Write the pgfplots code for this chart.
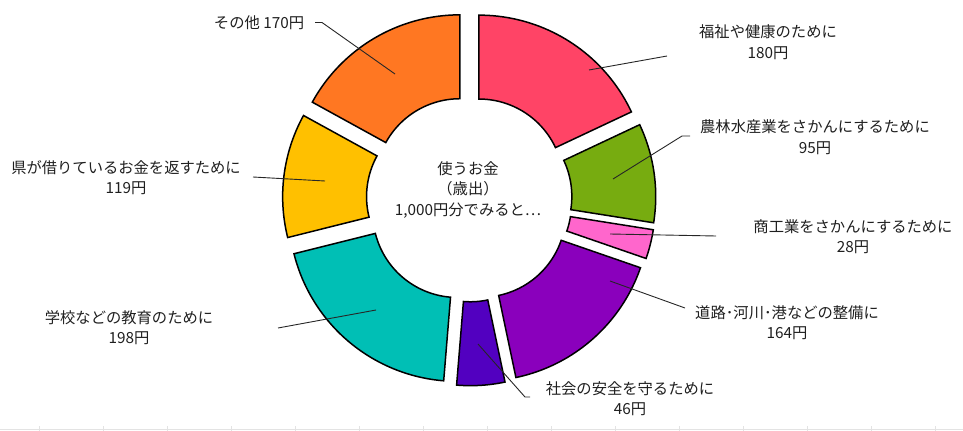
\documentclass[border=0pt]{standalone}
\usepackage{fontspec}
\setmainfont{Noto Sans CJK JP}
\usepackage{pgfplots}
\pgfplotsset{compat=1.18}
\definecolor{c1}{HTML}{FF4466}
\definecolor{c2}{HTML}{77AC10}
\definecolor{c3}{HTML}{FF66CC}
\definecolor{c4}{HTML}{8A00BC}
\definecolor{c5}{HTML}{5200C0}
\definecolor{c6}{HTML}{00BFB5}
\definecolor{c7}{HTML}{FFC000}
\definecolor{c8}{HTML}{FF7722}
% #1 = cumulative start (yen), #2 = value (yen), #3 = colour
\newcommand{\seg}[3]{%
  \addplot[fill=#3, draw=black, line width=1.5bp, line join=miter, variable=\t,
    samples at={0,0.025,...,0.975,1,1.1,1.125,...,2.075,2.1}]
  ({469.2 + 18.2*sin(0.18*(2*#1+#2)) + segrad(\t)*sin(0.36*(#1 + #2*segfr(\t)))},
   {199 - 18.2*cos(0.18*(2*#1+#2)) - segrad(\t)*cos(0.36*(#1 + #2*segfr(\t)))}) -- cycle;
}
\newcommand{\lab}{\fontsize{15.3bp}{20.5bp}\selectfont}
\tikzset{lbl/.style={align=center, font=\lab, text=black!88, inner sep=0pt}}
\begin{document}
\begin{tikzpicture}
\begin{axis}[
  width=963bp, height=431bp, scale only axis,
  xmin=0, xmax=963, ymin=0, ymax=431, y dir=reverse,
  hide axis, clip=false, no markers,
  declare function={segfr(\a)=ifthenelse(\a<1.05,\a,2.1-\a);
                    segrad(\a)=ifthenelse(\a<1.05,168.5,84.6);},
]
% faint sheet line at the bottom
\addplot[gray!22, line width=0.8bp] coordinates {(0,429.5) (963,429.5)};
\addplot[gray!22, line width=0.8bp, unbounded coords=jump] coordinates {
 (39.5,426)(39.5,431) (nan,nan) (103.5,426)(103.5,431) (nan,nan)
 (167.5,426)(167.5,431) (nan,nan) (231.5,426)(231.5,431) (nan,nan)
 (295.5,426)(295.5,431) (nan,nan) (359.5,426)(359.5,431) (nan,nan)
 (423.5,426)(423.5,431) (nan,nan) (487.5,426)(487.5,431) (nan,nan)
 (551.5,426)(551.5,431) (nan,nan) (615.5,426)(615.5,431) (nan,nan)
 (679.5,426)(679.5,431) (nan,nan) (743.5,426)(743.5,431) (nan,nan)
 (807.5,426)(807.5,431) (nan,nan) (871.5,426)(871.5,431) (nan,nan)
 (935.5,426)(935.5,431)};
% donut sectors: start, value
\seg{0}{180}{c1}
\seg{180}{95}{c2}
\seg{275}{28}{c3}
\seg{303}{164}{c4}
\seg{467}{46}{c5}
\seg{513}{198}{c6}
\seg{711}{119}{c7}
\seg{830}{170}{c8}
% leader lines
\addplot[black!85, line width=0.9bp] coordinates {(667,56) (589,70)};
\addplot[black!85, line width=0.9bp] coordinates {(690,136) (682,136) (613,179)};
\addplot[black!85, line width=0.9bp] coordinates {(716,236) (610,234)};
\addplot[black!85, line width=0.9bp] coordinates {(685,308) (610,281)};
\addplot[black!85, line width=0.9bp] coordinates {(530,397) (525,397) (478,344)};
\addplot[black!85, line width=0.9bp] coordinates {(278,328) (376,310)};
\addplot[black!85, line width=0.9bp] coordinates {(253,177) (325,181)};
\addplot[black!85, line width=0.9bp] coordinates {(315,22.5) (322,22.5) (395,74)};
% labels
\node[lbl] at (axis cs:768,42) {福祉や健康のために\\180円};
\node[lbl] at (axis cs:815,137) {農林水産業をさかんにするために\\95円};
\node[lbl] at (axis cs:853,236.5) {商工業をさかんにするために\\28円};
\node[lbl] at (axis cs:787,322.5) {道路･河川･港などの整備に\\164円};
\node[lbl] at (axis cs:630,398.5) {社会の安全を守るために\\46円};
\node[lbl] at (axis cs:129,327.5) {学校などの教育のために\\198円};
\node[lbl] at (axis cs:126,177.5) {県が借りているお金を返すために\\119円};
\node[lbl] at (axis cs:259,23) {その他 170円};
\node[lbl] at (axis cs:468,190) {使うお金\\（歳出）\\1,000円分でみると…};
\end{axis}
\pgfresetboundingbox
\path[use as bounding box] (0,0) rectangle (963bp,431bp);
\end{tikzpicture}
\end{document}
